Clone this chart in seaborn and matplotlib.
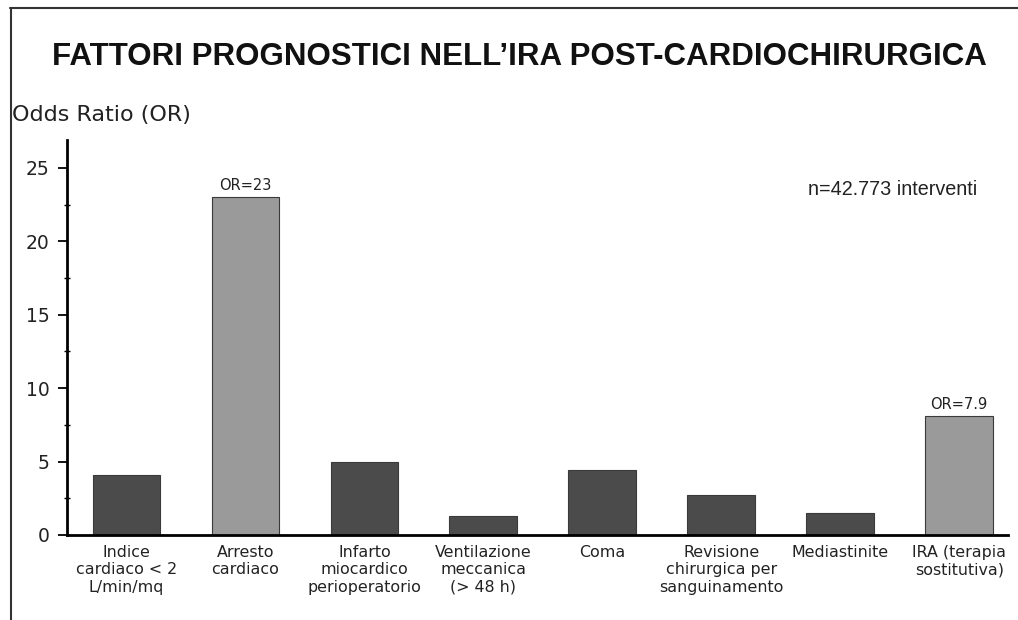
import matplotlib
matplotlib.use("Agg")
import matplotlib.pyplot as plt
import seaborn as sns
import pandas as pd
from matplotlib.ticker import MultipleLocator
from matplotlib.lines import Line2D

categories = [
    "Indice\ncardiaco < 2\nL/min/mq",
    "Arresto\ncardiaco",
    "Infarto\nmiocardico\nperioperatorio",
    "Ventilazione\nmeccanica\n(> 48 h)",
    "Coma",
    "Revisione\nchirurgica per\nsanguinamento",
    "Mediastinite",
    "IRA (terapia\nsostitutiva)",
]
odds_ratio = [4.1, 23.0, 5.0, 1.3, 4.4, 2.75, 1.5, 8.1]
bar_labels = ["", "OR=23", "", "", "", "", "", "OR=7.9"]
highlight = [False, True, False, False, False, False, False, True]
yticks = [0, 5, 10, 15, 20, 25]

title = "FATTORI PROGNOSTICI NELL\u2019IRA POST-CARDIOCHIRURGICA"
ylabel = "Odds Ratio (OR)"
note = "n=42.773 interventi"

sns.set_theme(style="white")
plt.rcParams['font.family'] = ['DejaVu Sans']

dark = "#4b4b4b"
light = "#9a9a9a"
palette = {c: (light if h else dark) for c, h in zip(categories, highlight)}

df = pd.DataFrame({"cat": categories, "val": odds_ratio})

fig = plt.figure(figsize=(10.18, 6.2), dpi=100)
ax = fig.add_axes([67 / 1018, 1 - 535 / 620, (1008 - 67) / 1018, (535 - 140) / 620])

sns.barplot(data=df, x="cat", y="val", hue="cat", palette=palette, legend=False,
            width=0.57, edgecolor="#3a3a3a", linewidth=0.8, ax=ax, saturation=1)

ax.set_xlim(-0.5, 7.41)
ax.set_ylim(0, 26.9)
ax.set_yticks(yticks)
ax.yaxis.set_minor_locator(MultipleLocator(2.5))
ax.tick_params(axis="y", which="major", direction="out", length=6.5, width=1.3,
               color="black", labelsize=13.5, pad=6, left=True)
ax.tick_params(axis="y", which="minor", direction="inout", length=5, width=1.0,
               color="black", left=True)
ax.tick_params(axis="x", length=0, labelsize=11.4, pad=7)
for lbl in ax.get_xticklabels():
    lbl.set_color("#222222")
for lbl in ax.get_yticklabels():
    lbl.set_color("#222222")
ax.set_xlabel("")
ax.set_ylabel("")

for s in ["top", "right"]:
    ax.spines[s].set_visible(False)
for s in ["left", "bottom"]:
    ax.spines[s].set_visible(True)
    ax.spines[s].set_color("black")
    ax.spines[s].set_linewidth(2)

for i, (v, t) in enumerate(zip(odds_ratio, bar_labels)):
    if t:
        ax.annotate(t, (i, v), xytext=(0, 3), textcoords="offset points",
                    ha="center", va="bottom", fontsize=10.5, color="#222222")

fig.text(519 / 1018, 1 - 57 / 620, title, ha="center", va="center",
         fontsize=22.5, fontweight="bold", family="Liberation Sans", color="#111111")
fig.text(12 / 1018, 1 - 115 / 620, ylabel, ha="left", va="center",
         fontsize=16, color="#222222")
fig.text(808 / 1018, 1 - 190 / 620, note, ha="left", va="center",
         fontsize=14.2, family="Liberation Sans", color="#222222")

fig.add_artist(Line2D([10 / 1018, 1], [1 - 8 / 620, 1 - 8 / 620],
                      transform=fig.transFigure, color="#333333", linewidth=1.5))
fig.add_artist(Line2D([11 / 1018, 11 / 1018], [0, 1 - 8 / 620],
                      transform=fig.transFigure, color="#333333", linewidth=1.5))

fig.savefig("out.png", dpi=100, facecolor="white")
